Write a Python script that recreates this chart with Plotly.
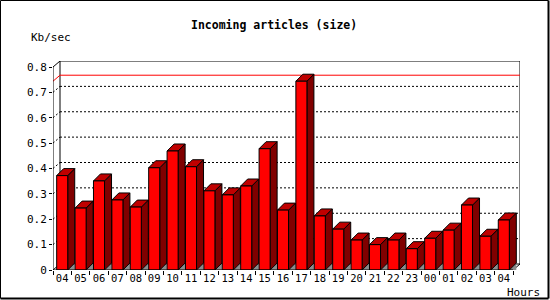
import plotly.graph_objects as go

# ---- data ----
hours = ["04", "05", "06", "07", "08", "09", "10", "11", "12", "13", "14", "15", "16",
         "17", "18", "19", "20", "21", "22", "23", "00", "01", "02", "03", "04"]
values = [0.372, 0.244, 0.351, 0.276, 0.248, 0.403, 0.469, 0.407, 0.312, 0.296, 0.331,
          0.478, 0.236, 0.744, 0.213, 0.161, 0.118, 0.100, 0.118, 0.084, 0.125, 0.157,
          0.256, 0.133, 0.197]
ytick_vals = [0, 0.1, 0.2, 0.3, 0.4, 0.5, 0.6, 0.7, 0.8]
ytick_text = ["0", "0.1", "0.2", "0.3", "0.4", "0.5", "0.6", "0.7", "0.8"]
title = "Incoming articles (size)"
y_title = "Kb/sec"
x_title = "Hours"

# ---- geometry ----
W, H = 550, 300
L, R, T, B = 53, 30, 61, 30
PW, PH = W - L - R, H - T - B
n = len(values)
ppc = (PW - 7) / n           # pixels per category
ppy = (PH - 6) / 0.8         # pixels per unit
DXW, DYW = 7 / ppc, 6 / ppy  # wall depth
DXB, DYB = 7 / ppc, 7 / ppy  # bar depth
HW = 0.3                     # half front width
x0, x1 = -0.5, n - 0.5
ymax = 0.8

FONT = "DejaVu Sans Mono"

def px2paper(px, py):
    return (px - L) / PW, (H - B - py) / PH

fig = go.Figure()

def line_trace(xs, ys, color="black", width=1, dash=None):
    fig.add_trace(go.Scatter(x=xs, y=ys, mode="lines", hoverinfo="skip",
                             line=dict(color=color, width=width, dash=dash),
                             showlegend=False))

# back wall grid (dotted) + side wall diagonals
gx, gy = [], []
sx, sy = [], []
for v in ytick_vals[1:-1]:
    gx += [x0 + DXW, x1 + DXW, None]
    gy += [v + DYW, v + DYW, None]
    sx += [x0, x0 + DXW, None]
    sy += [v, v + DYW, None]
line_trace(gx, gy, dash="2px,2px")
line_trace(sx, sy, dash="2px,2px")

# back wall frame and side edges
line_trace([x0 + DXW, x0 + DXW, x1 + DXW, x1 + DXW, x0 + DXW],
           [DYW, ymax + DYW, ymax + DYW, DYW, DYW])
line_trace([x0, x0 + DXW], [ymax, ymax + DYW])
line_trace([x0, x0 + DXW], [0, DYW])
line_trace([x1, x1 + DXW], [0, DYW])

# max line
vmax = max(values)
line_trace([x0, x0 + DXW, x1 + DXW], [vmax, vmax + DYW, vmax + DYW], color="#ff0000")

# bars
fx, fy, tx, ty, sdx, sdy, gtx, gty = [], [], [], [], [], [], [], []
for i, v in enumerate(values):
    a, b = i - HW, i + HW
    fx += [a, b, b, a, a, None]
    fy += [0, 0, v, v, 0, None]
    tx += [a, b, b + DXB, a + DXB, a, None]
    ty += [v, v, v + DYB, v + DYB, v, None]
    sdx += [b, b + DXB, b + DXB, b, b, None]
    sdy += [0, DYB, v + DYB, v, 0, None]
    gtx += [b, b + DXB, b + DXB, b, None]
    gty += [0, DYB, 0, 0, None]

def poly(xs, ys, fill, lw=1, lc="black"):
    fig.add_trace(go.Scatter(x=xs, y=ys, mode="lines", fill="toself", fillcolor=fill,
                             line=dict(color=lc, width=lw), hoverinfo="skip",
                             showlegend=False))

poly(gtx, gty, "#8c8c8c", lw=0, lc="rgba(0,0,0,0)")
poly(sdx, sdy, "#800000")
poly(tx, ty, "#c00000")
poly(fx, fy, "#ff0000")

# front axes lines
line_trace([x0, x0], [0, ymax])
line_trace([x0, x1], [0, 0])

fig.update_xaxes(range=[x0, x1 + DXW], showgrid=False, zeroline=False, showline=False,
                 tickmode="array", tickvals=list(range(n)), ticktext=hours, ticks="",
                 tickfont=dict(family=FONT, size=10.5, color="black"),
                 minor=dict(tickmode="array", tickvals=[k - 0.5 for k in range(n + 1)],
                            ticks="outside", ticklen=4, tickcolor="black", tickwidth=1,
                            showgrid=False))
fig.update_yaxes(range=[0, PH / ppy], showgrid=False, zeroline=False, showline=False,
                 tickmode="array", tickvals=ytick_vals, ticktext=ytick_text,
                 ticks="outside", ticklen=3, tickcolor="black", tickwidth=1,
                 tickfont=dict(family=FONT, size=11, color="black"))

ann = []
tx_, ty_ = px2paper(274, 25)
ann.append(dict(text="<b>" + title + "</b>", x=tx_, y=ty_, xref="paper", yref="paper",
                xanchor="center", yanchor="middle", showarrow=False,
                font=dict(family=FONT, size=11.5, color="black")))
ax_, ay_ = px2paper(29, 37)
ann.append(dict(text=y_title, x=ax_, y=ay_, xref="paper", yref="paper",
                xanchor="left", yanchor="middle", showarrow=False,
                font=dict(family=FONT, size=11, color="black")))
hx_, hy_ = px2paper(505, 292)
ann.append(dict(text=x_title, x=hx_, y=hy_, xref="paper", yref="paper",
                xanchor="left", yanchor="middle", showarrow=False,
                font=dict(family=FONT, size=11, color="black")))

# outer border
bx0, by0 = px2paper(0.5, 0.5)
bx1, by1 = px2paper(548.5, 298.5)
shapes = [
    dict(type="line", xref="paper", yref="paper", x0=bx0, x1=bx0, y0=by0, y1=by1,
         line=dict(color="black", width=1)),
    dict(type="line", xref="paper", yref="paper", x0=bx0, x1=bx1, y0=by0, y1=by0,
         line=dict(color="black", width=1)),
    dict(type="line", xref="paper", yref="paper", x0=bx1, x1=bx1, y0=by0, y1=by1,
         line=dict(color="black", width=2)),
    dict(type="line", xref="paper", yref="paper", x0=bx0, x1=bx1, y0=by1, y1=by1,
         line=dict(color="black", width=2)),
]

fig.update_layout(width=W, height=H, margin=dict(l=L, r=R, t=T, b=B),
                  paper_bgcolor="white", plot_bgcolor="white",
                  annotations=ann, shapes=shapes, showlegend=False)

fig.write_html("out.html", config={"displayModeBar": False})
